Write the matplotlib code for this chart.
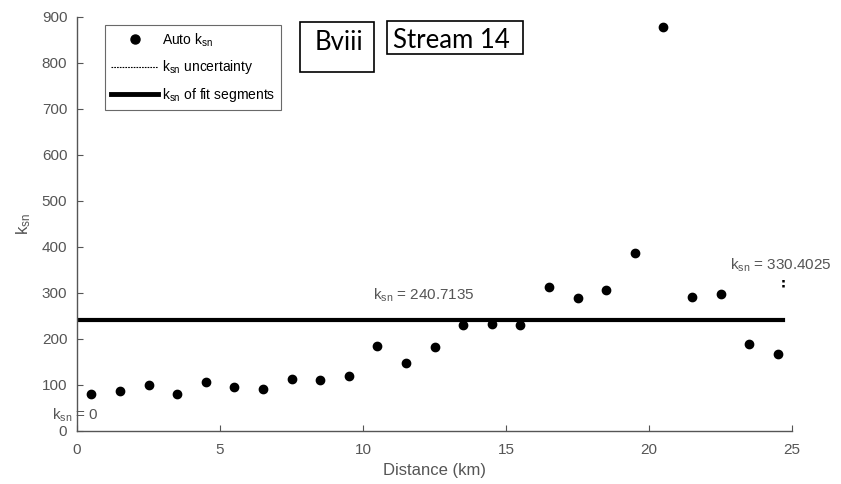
import matplotlib.pyplot as plt
from matplotlib.lines import Line2D
from matplotlib.patches import Rectangle

plt.rcParams['font.family'] = ['Liberation Sans', 'DejaVu Sans']
plt.rcParams['mathtext.default'] = 'regular'

# data
distance = [0.5, 1.5, 2.5, 3.5, 4.5, 5.5, 6.5, 7.5, 8.5, 9.5, 10.5, 11.5,
            12.5, 13.5, 14.5, 15.5, 16.5, 17.5, 18.5, 19.5, 20.5, 21.5,
            22.5, 23.5, 24.5]
ksn = [80, 88, 101, 80, 106, 95, 92, 113, 111, 120, 185, 148,
       183, 230, 233, 230, 313, 290, 307, 388, 879, 292,
       297, 190, 167]
fit_x = [0, 24.7]
fit_ksn = 240.7135
unc_x = [24.7, 24.7]
unc_y = [314, 332]

grey = '#555555'
W, H = 841, 484

fig = plt.figure(figsize=(W / 100, H / 100), dpi=100)
ax = fig.add_axes([77 / W, 1 - 431 / H, 715 / W, 414 / H])

ax.plot(distance, ksn, 'o', color='black', markersize=6, clip_on=False)
ax.plot(fit_x, [fit_ksn, fit_ksn], color='black', linewidth=3)
ax.plot(unc_x, unc_y, color='black', linewidth=1.8, linestyle=(0, (1, 1)))

ax.set_xlim(0, 25)
ax.set_ylim(0, 900)
ax.set_xticks([0, 5, 10, 15, 20, 25])
ax.set_yticks(range(0, 1000, 100))
ax.tick_params(direction='in', length=4, color=grey, labelcolor=grey,
               labelsize=11)
ax.tick_params(axis='x', pad=9)
ax.tick_params(axis='y', pad=7)
for s in ['top', 'right']:
    ax.spines[s].set_visible(False)
for s in ['left', 'bottom']:
    ax.spines[s].set_color(grey)
    ax.spines[s].set_linewidth(1.0)

ax.set_xlabel('Distance (km)', color=grey, fontsize=12, labelpad=4)
ax.set_ylabel('k$_{sn}$', color=grey, fontsize=12, labelpad=6)

ax.text(10.35, 285, 'k$_{sn}$ = 240.7135', color=grey, fontsize=11,
        va='baseline')
ax.text(22.83, 350, 'k$_{sn}$ = 330.4025', color=grey, fontsize=11,
        va='baseline', clip_on=False)
ax.text(-0.87, 24, 'k$_{sn}$ = 0', color=grey, fontsize=11, va='baseline',
        clip_on=False)

handles = [
    Line2D([], [], marker='o', linestyle='none', color='black', markersize=6.5),
    Line2D([], [], color='black', linewidth=0.8, linestyle=(0, (1.5, 1))),
    Line2D([], [], color='black', linewidth=3.5),
]
labels = ['Auto k$_{sn}$', 'k$_{sn}$ uncertainty', 'k$_{sn}$ of fit segments']
leg = ax.legend(handles, labels, loc='upper left',
                bbox_to_anchor=((105 - 77) / 715, (431 - 25) / 414),
                fontsize=10, frameon=True, fancybox=False, handlelength=3.4,
                handletextpad=0.25, borderaxespad=0, borderpad=0.45,
                labelspacing=0.7)
leg.get_frame().set_edgecolor('#444444')
leg.get_frame().set_linewidth(0.8)


def px_box(x0, y0, x1, y1):
    fig.patches.append(Rectangle((x0 / W, 1 - y1 / H), (x1 - x0) / W,
                                 (y1 - y0) / H, transform=fig.transFigure,
                                 facecolor='white', edgecolor='black',
                                 linewidth=1.2))


px_box(300, 22, 374, 72)
px_box(387, 21, 523, 54)
fig.text(315 / W, 1 - 50 / H, 'Bviii', fontsize=18.5, color='black',
         family=['Lato', 'DejaVu Sans'], va='baseline')
fig.text(393 / W, 1 - 48 / H, 'Stream 14', fontsize=18.5, color='black',
         family=['Lato', 'DejaVu Sans'], va='baseline')

fig.savefig('out.png', dpi=100)
